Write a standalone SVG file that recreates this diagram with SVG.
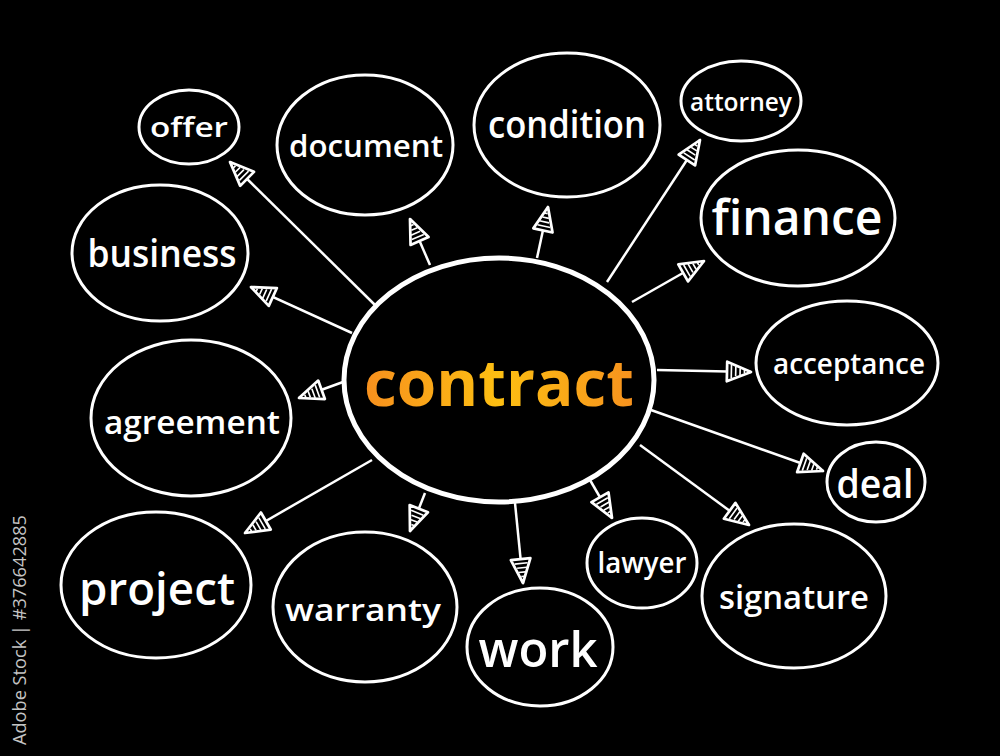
<svg xmlns="http://www.w3.org/2000/svg" width="1000" height="756" viewBox="0 0 1000 756">
<style>
.n{fill:#000;stroke:#fff;stroke-width:3}
.t{fill:#fff;font-family:"Open Sans","DejaVu Sans",sans-serif;font-weight:600;text-anchor:middle;dominant-baseline:central}
.c line{stroke:#fff;stroke-width:2.5;marker-end:url(#ah)}
</style>
<defs>
<marker id="ah" viewBox="0 0 26 22" refX="24" refY="11" markerWidth="29" markerHeight="24" markerUnits="userSpaceOnUse" orient="auto">
<path d="M2,2 L24,11 L2,20 Z" fill="#000" stroke="#fff" stroke-width="2.5" stroke-linejoin="round"/>
<path d="M6,5 L6,17 M10,6 L10,15 M14,8 L14,14 M18,9 L18,12" stroke="#fff" stroke-width="1.5"/>
</marker>
<linearGradient id="og" x1="0" x2="1" y1="0" y2="0">
<stop offset="0" stop-color="#f7901e"/>
<stop offset="0.5" stop-color="#fdbf12"/>
<stop offset="1" stop-color="#f7921e"/>
</linearGradient>
</defs>
<rect width="1000" height="756" fill="#000"/>
<text x="0" y="0" transform="translate(26,745) rotate(-90)" font-family="'Open Sans','DejaVu Sans',sans-serif" font-size="18" fill="#c4c4c4" textLength="230" lengthAdjust="spacingAndGlyphs">Adobe Stock | #376642885</text>
<g class="c">
<line x1="375" y1="305" x2="230" y2="162"/>
<line x1="430" y1="265" x2="410" y2="219"/>
<line x1="537" y1="258" x2="548" y2="207"/>
<line x1="607" y1="282" x2="700" y2="140"/>
<line x1="632" y1="302" x2="704" y2="261"/>
<line x1="352" y1="333" x2="251" y2="287"/>
<line x1="657" y1="370" x2="751" y2="372"/>
<line x1="343" y1="382" x2="299" y2="398"/>
<line x1="651" y1="410" x2="823" y2="471"/>
<line x1="372" y1="460" x2="245" y2="533"/>
<line x1="425" y1="493" x2="410" y2="531"/>
<line x1="515" y1="503" x2="523" y2="583"/>
<line x1="590" y1="480" x2="612" y2="518"/>
<line x1="640" y1="445" x2="749" y2="525"/>
</g>
<g id="offer"><ellipse class="n" cx="189" cy="127" rx="50" ry="37"/><text class="t" x="189" y="126" font-size="27" textLength="78" lengthAdjust="spacingAndGlyphs">offer</text></g>
<g id="document"><ellipse class="n" cx="365" cy="145" rx="88" ry="70"/><text class="t" x="366" y="145" font-size="31" textLength="154" lengthAdjust="spacingAndGlyphs">document</text></g>
<g id="condition"><ellipse class="n" cx="567" cy="125" rx="93" ry="72"/><text class="t" x="567" y="123" font-size="37" textLength="158" lengthAdjust="spacingAndGlyphs">condition</text></g>
<g id="attorney"><ellipse class="n" cx="741" cy="101" rx="60" ry="40"/><text class="t" x="741" y="101" font-size="25" textLength="102" lengthAdjust="spacingAndGlyphs">attorney</text></g>
<g id="finance"><ellipse class="n" cx="798" cy="218" rx="97" ry="68"/><text class="t" x="797" y="216" font-size="48" textLength="171" lengthAdjust="spacingAndGlyphs">finance</text></g>
<g id="business"><ellipse class="n" cx="160" cy="253" rx="88" ry="68"/><text class="t" x="162" y="252" font-size="37" textLength="149" lengthAdjust="spacingAndGlyphs">business</text></g>
<g id="acceptance"><ellipse class="n" cx="847" cy="363" rx="91" ry="62"/><text class="t" x="849" y="362" font-size="29" textLength="152" lengthAdjust="spacingAndGlyphs">acceptance</text></g>
<g id="agreement"><ellipse class="n" cx="191" cy="418" rx="100" ry="78"/><text class="t" x="192" y="421" font-size="33" textLength="176" lengthAdjust="spacingAndGlyphs">agreement</text></g>
<g id="deal"><ellipse class="n" cx="876" cy="482" rx="49" ry="40"/><text class="t" x="875" y="482" font-size="39" textLength="77" lengthAdjust="spacingAndGlyphs">deal</text></g>
<g id="project"><ellipse class="n" cx="156" cy="585" rx="95" ry="73"/><text class="t" x="157" y="587" font-size="45" textLength="156" lengthAdjust="spacingAndGlyphs">project</text></g>
<g id="warranty"><ellipse class="n" cx="365" cy="607" rx="92" ry="75"/><text class="t" x="363" y="609" font-size="31" textLength="156" lengthAdjust="spacingAndGlyphs">warranty</text></g>
<g id="work"><ellipse class="n" cx="540" cy="647" rx="73" ry="59"/><text class="t" x="538" y="648" font-size="48" textLength="119" lengthAdjust="spacingAndGlyphs">work</text></g>
<g id="lawyer"><ellipse class="n" cx="642" cy="563" rx="55" ry="45"/><text class="t" x="642" y="562" font-size="28" textLength="89" lengthAdjust="spacingAndGlyphs">lawyer</text></g>
<g id="signature"><ellipse class="n" cx="794" cy="596" rx="92" ry="72"/><text class="t" x="794" y="596" font-size="33" textLength="150" lengthAdjust="spacingAndGlyphs">signature</text></g>
<g id="contract"><ellipse cx="499" cy="380" rx="155" ry="122" fill="#000" stroke="#fff" stroke-width="5"/><text x="499" y="381" font-family="'Open Sans','DejaVu Sans',sans-serif" font-weight="700" font-size="64" text-anchor="middle" dominant-baseline="central" fill="url(#og)" textLength="270" lengthAdjust="spacingAndGlyphs">contract</text></g>
</svg>
